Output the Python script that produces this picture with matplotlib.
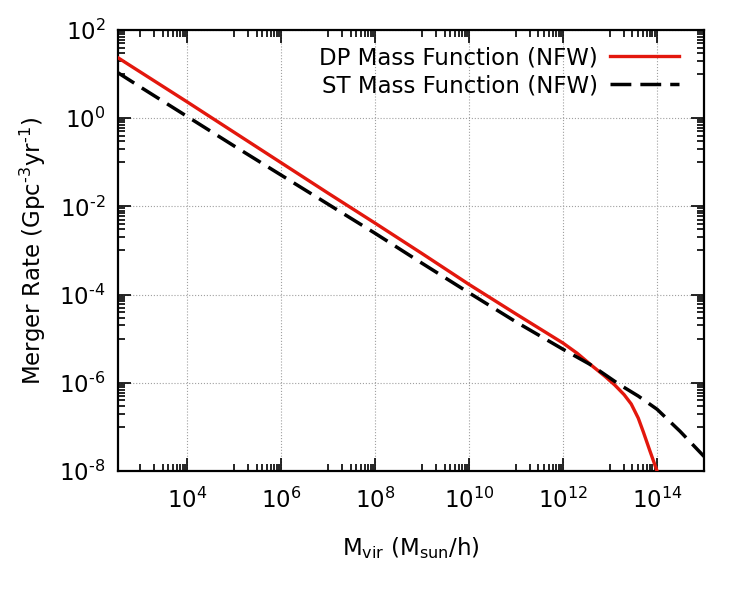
import numpy as np
import matplotlib.pyplot as plt
from matplotlib.ticker import FixedLocator, NullFormatter

# halo mass, log10(M_vir / (M_sun/h)), and log10 merger rate (Gpc^-3 yr^-1)
log_mass_dp = [2.5, 3, 4, 5, 6, 7, 8, 9, 10, 11, 12, 12.3, 12.6, 12.9, 13.1,
               13.3, 13.45, 13.6, 13.71, 13.85, 14.0]
log_rate_dp = [1.39, 1.05, 0.37, -0.32, -1.01, -1.70, -2.38, -3.07, -3.77, -4.44,
               -5.10, -5.33, -5.60, -5.86, -6.05, -6.27, -6.48, -6.80, -7.12,
               -7.55, -8.0]

log_mass_st = [2.5, 3, 4, 5, 6, 7, 8, 9, 10, 11, 12, 12.57, 13.2, 13.6, 14.0,
               14.49, 15.0]
log_rate_st = [1.05, 0.71, 0.04, -0.63, -1.29, -1.95, -2.61, -3.29, -3.96, -4.62,
               -5.24, -5.58, -6.04, -6.30, -6.60, -7.10, -7.67]

x_major = [4, 6, 8, 10, 12, 14]
y_major = [2, 0, -2, -4, -6, -8]

labels = ['DP Mass Function (NFW)', 'ST Mass Function (NFW)']

FS = 16.5
HY = '\u2010'  # gnuplot prints a short hyphen, not a minus sign


def minor_ticks(lo, hi):
    # gnuplot style: 10,20,...,90 times each major (majors every 2 decades)
    out = []
    for p in range(lo, hi, 2):
        for k in range(1, 10):
            out.append(10.0 ** p * 10 * k)
    return out


def sup_label(p):
    return r'$\mathregular{10^{%s}}$' % str(p).replace('-', HY)


fig = plt.figure(figsize=(7.47, 5.96), dpi=100)
ax = fig.add_axes([0.158, 0.2097, 0.7845, 0.74])

ax.plot(10.0 ** np.array(log_mass_dp), 10.0 ** np.array(log_rate_dp),
        color='#e3170d', lw=2.4, label=labels[0], zorder=3)
ax.plot(10.0 ** np.array(log_mass_st), 10.0 ** np.array(log_rate_st),
        color='black', lw=2.5, dashes=(6, 2.6), label=labels[1], zorder=3)

ax.set_xscale('log')
ax.set_yscale('log')
ax.set_xlim(10 ** 2.53, 1e15)
ax.set_ylim(1e-8, 1e2)

ax.xaxis.set_major_locator(FixedLocator([10.0 ** p for p in x_major]))
ax.xaxis.set_minor_locator(FixedLocator(minor_ticks(2, 15)))
ax.yaxis.set_major_locator(FixedLocator([10.0 ** p for p in y_major]))
ax.yaxis.set_minor_locator(FixedLocator(minor_ticks(-8, 2)))
ax.xaxis.set_minor_formatter(NullFormatter())
ax.yaxis.set_minor_formatter(NullFormatter())
ax.set_xticklabels([sup_label(p) for p in x_major])
ax.set_yticklabels([sup_label(p) for p in y_major])

ax.tick_params(which='both', direction='in', top=True, right=True,
               width=1.2, labelsize=FS)
ax.tick_params(which='major', length=9.5)
ax.tick_params(which='minor', length=5)
ax.tick_params(axis='x', which='major', pad=12)
ax.tick_params(axis='y', which='major', pad=9)
for sp in ax.spines.values():
    sp.set_linewidth(1.6)

ax.grid(True, which='major', color='#a0a0a0', linestyle=':', linewidth=0.8)
ax.set_axisbelow(True)

ax.set_xlabel(r'M$_{\mathregular{vir}}$ (M$_{\mathregular{sun}}$/h)', fontsize=FS,
              labelpad=16)
ax.set_ylabel('Merger Rate (Gpc$^{\\mathregular{' + HY + '3}}$yr$^{\\mathregular{' + HY + '1}}$)',
              fontsize=FS, labelpad=8)

ax.legend(loc='upper right', bbox_to_anchor=(0.985, 1.0), frameon=False,
          markerfirst=False, fontsize=FS, handlelength=3.0, handletextpad=0.55,
          labelspacing=0.22, borderaxespad=0.3)

fig.savefig('out.png', dpi=100)
